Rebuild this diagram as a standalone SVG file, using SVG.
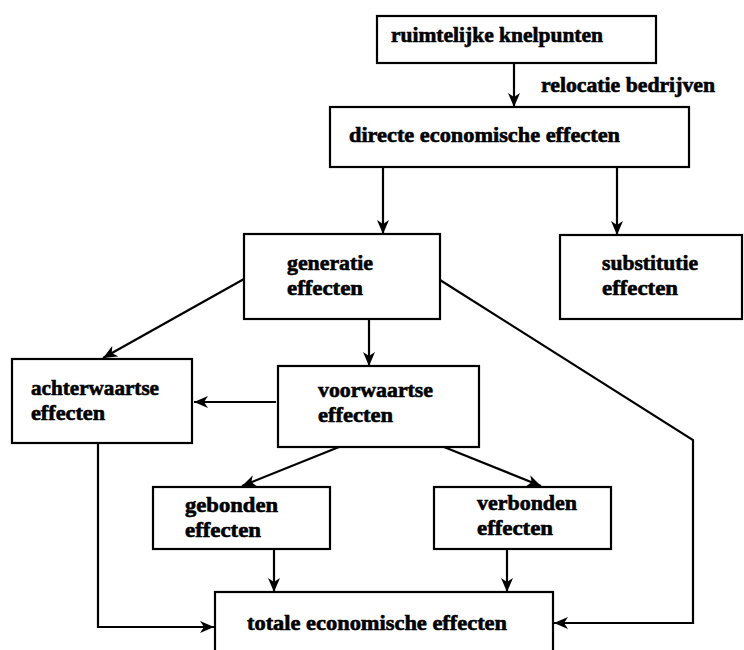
<svg xmlns="http://www.w3.org/2000/svg" width="744" height="650" viewBox="0 0 744 650">
<style>
rect.box{fill:#fff;stroke:#000;stroke-width:2.2}
text{font-family:'Liberation Serif','Times New Roman','DejaVu Serif',serif;font-weight:bold;font-size:21px;fill:#000;stroke:#000;stroke-width:0.6}
.c{fill:none;stroke:#000;stroke-width:2.2}
</style>
<defs>
<marker id="ah" viewBox="0 0 14 12" refX="14" refY="6" markerWidth="14" markerHeight="12" markerUnits="userSpaceOnUse" orient="auto">
<path d="M0,0 L14,6 L0,12 L4,6 z" fill="#000"/>
</marker>
</defs>
<rect width="744" height="650" fill="#fff"/>
<g id="connectors">
<line class="c" x1="514" y1="63" x2="514" y2="107" marker-end="url(#ah)"/>
<line class="c" x1="383" y1="167" x2="383" y2="234" marker-end="url(#ah)"/>
<line class="c" x1="617" y1="167" x2="617" y2="235" marker-end="url(#ah)"/>
<line class="c" x1="369" y1="319" x2="369" y2="366" marker-end="url(#ah)"/>
<line class="c" x1="244" y1="279" x2="103" y2="358" marker-end="url(#ah)"/>
<line class="c" x1="276" y1="402" x2="194" y2="402" marker-end="url(#ah)"/>
<polyline class="c" points="440,280 693,440 693,623 554,623" marker-end="url(#ah)"/>
<line class="c" x1="339" y1="447" x2="242" y2="486" marker-end="url(#ah)"/>
<line class="c" x1="444" y1="447" x2="541" y2="486" marker-end="url(#ah)"/>
<line class="c" x1="274" y1="549" x2="274" y2="592" marker-end="url(#ah)"/>
<line class="c" x1="507" y1="549" x2="507" y2="592" marker-end="url(#ah)"/>
<polyline class="c" points="98,443 98,627 214,627" marker-end="url(#ah)"/>
<text x="541" y="92" textLength="174" lengthAdjust="spacingAndGlyphs">relocatie bedrijven</text>
</g>
<g id="ruimtelijke">
<rect class="box" x="377" y="16" width="279" height="47"/>
<text x="391" y="42" textLength="212" lengthAdjust="spacingAndGlyphs">ruimtelijke knelpunten</text>
</g>
<g id="directe">
<rect class="box" x="330" y="107" width="359" height="60"/>
<text x="349" y="142" textLength="271" lengthAdjust="spacingAndGlyphs">directe economische effecten</text>
</g>
<g id="generatie">
<rect class="box" x="244" y="234" width="196" height="85"/>
<text x="287" y="270" textLength="86" lengthAdjust="spacingAndGlyphs">generatie</text>
<text x="287" y="295" textLength="76" lengthAdjust="spacingAndGlyphs">effecten</text>
</g>
<g id="substitutie">
<rect class="box" x="560" y="235" width="182" height="84"/>
<text x="602" y="270" textLength="96" lengthAdjust="spacingAndGlyphs">substitutie</text>
<text x="602" y="295" textLength="76" lengthAdjust="spacingAndGlyphs">effecten</text>
</g>
<g id="achterwaartse">
<rect class="box" x="12" y="359" width="180" height="84"/>
<text x="31" y="395" textLength="128" lengthAdjust="spacingAndGlyphs">achterwaartse</text>
<text x="31" y="420" textLength="74" lengthAdjust="spacingAndGlyphs">effecten</text>
</g>
<g id="voorwaartse">
<rect class="box" x="278" y="366" width="201" height="81"/>
<text x="318" y="397" textLength="115" lengthAdjust="spacingAndGlyphs">voorwaartse</text>
<text x="318" y="422" textLength="75" lengthAdjust="spacingAndGlyphs">effecten</text>
</g>
<g id="gebonden">
<rect class="box" x="153" y="487" width="177" height="62"/>
<text x="185" y="512" textLength="93" lengthAdjust="spacingAndGlyphs">gebonden</text>
<text x="185" y="537" textLength="76" lengthAdjust="spacingAndGlyphs">effecten</text>
</g>
<g id="verbonden">
<rect class="box" x="434" y="487" width="177" height="62"/>
<text x="477" y="510" textLength="100" lengthAdjust="spacingAndGlyphs">verbonden</text>
<text x="477" y="535" textLength="76" lengthAdjust="spacingAndGlyphs">effecten</text>
</g>
<g id="totale">
<rect class="box" x="215" y="592" width="338" height="70"/>
<text x="247" y="630" textLength="260" lengthAdjust="spacingAndGlyphs">totale economische effecten</text>
</g>
</svg>
